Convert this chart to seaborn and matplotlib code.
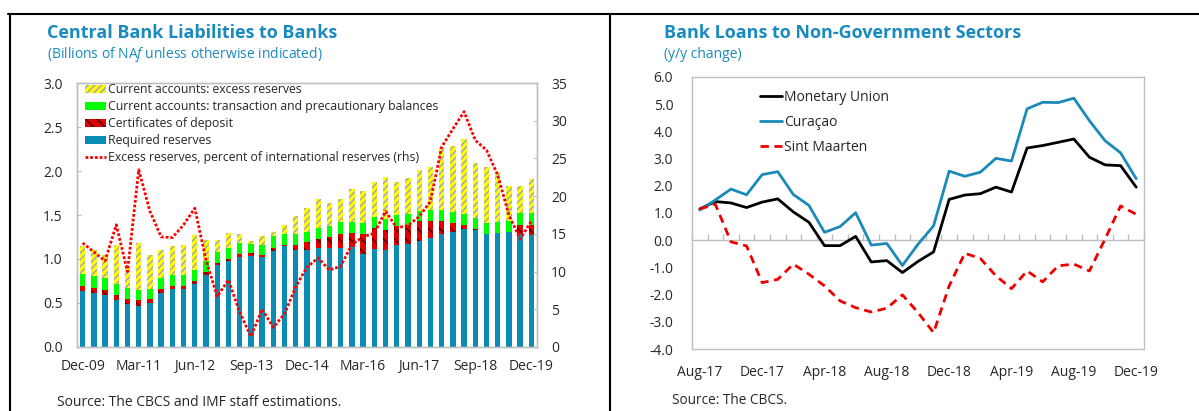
import numpy as np
import pandas as pd
import matplotlib
matplotlib.use("Agg")
import matplotlib.pyplot as plt
import matplotlib.patches as mpatches
from matplotlib.lines import Line2D
import seaborn as sns

# ---- left chart data (billions of NAf), Dec-09 .. Dec-19 quarterly
quarters = pd.date_range("2009-12-31", "2019-12-31", freq="QE").strftime("%b-%y").tolist()

required = [0.636, 0.617, 0.587, 0.530, 0.492, 0.470, 0.500, 0.617, 0.663, 0.663,
            0.720, 0.822, 0.928, 0.973, 1.023, 1.030, 1.023, 1.091, 1.144, 1.106,
            1.100, 1.120, 1.128, 1.128, 1.139, 1.056, 1.109, 1.102, 1.154, 1.165,
            1.203, 1.237, 1.282, 1.305, 1.342, 1.327, 1.286, 1.297, 1.308, 1.286, 1.278]
cds = [0.057, 0.057, 0.057, 0.057, 0.050, 0.060, 0.042, 0.038, 0.030, 0.030,
       0.030, 0.030, 0.027, 0.023, 0.030, 0.038, 0.019, 0.038, 0.019, 0.057,
       0.090, 0.109, 0.124, 0.158, 0.158, 0.230, 0.244, 0.229, 0.218, 0.226,
       0.226, 0.199, 0.154, 0.105, 0.049, 0.019, 0.0, 0.0, 0.0, 0.105, 0.113]
transaction = [0.133, 0.133, 0.140, 0.129, 0.132, 0.122, 0.121, 0.125, 0.121, 0.121,
               0.121, 0.121, 0.125, 0.129, 0.129, 0.102, 0.121, 0.129, 0.121, 0.121,
               0.115, 0.124, 0.120, 0.131, 0.124, 0.124, 0.121, 0.124, 0.124, 0.120,
               0.120, 0.120, 0.120, 0.124, 0.120, 0.120, 0.124, 0.120, 0.128, 0.132, 0.132]
excess = [0.322, 0.291, 0.258, 0.439, 0.250, 0.534, 0.386, 0.318, 0.338, 0.349,
          0.406, 0.239, 0.132, 0.174, 0.098, 0.030, 0.102, 0.049, 0.099, 0.201,
          0.270, 0.331, 0.263, 0.267, 0.372, 0.368, 0.406, 0.481, 0.384, 0.406,
          0.462, 0.493, 0.700, 0.752, 0.857, 0.620, 0.631, 0.568, 0.399, 0.308, 0.383]
excess_pct = [13.8, 12.6, 11.4, 16.2, 10.0, 23.5, 18.0, 14.6, 14.5, 16.2,
              18.4, 11.5, 6.7, 8.9, 4.6, 1.4, 5.0, 2.6, 4.4, 8.0,
              10.6, 11.8, 10.2, 10.7, 13.6, 14.6, 15.1, 18.0, 15.8, 16.1,
              17.3, 19.3, 26.5, 28.9, 31.2, 27.4, 26.1, 22.8, 17.5, 14.3, 16.7]

# ---- right chart data (y/y change), Aug-17 .. Dec-19 monthly
months = pd.date_range("2017-08-31", "2019-12-31", freq="ME").strftime("%b-%y").tolist()

monetary_union = [1.15, 1.42, 1.37, 1.20, 1.40, 1.52, 1.04, 0.66, -0.20, -0.20,
                  0.14, -0.80, -0.75, -1.19, -0.78, -0.43, 1.50, 1.66, 1.71, 1.95,
                  1.77, 3.39, 3.48, 3.60, 3.72, 3.05, 2.77, 2.74, 1.95]
curacao = [1.11, 1.48, 1.88, 1.67, 2.41, 2.52, 1.68, 1.28, 0.29, 0.50,
           1.01, -0.18, -0.12, -0.93, -0.15, 0.53, 2.54, 2.35, 2.50, 3.01,
           2.91, 4.83, 5.07, 5.06, 5.22, 4.39, 3.66, 3.21, 2.26]
sint_maarten = [1.15, 1.32, -0.06, -0.21, -1.56, -1.44, -0.88, -1.25, -1.68, -2.23,
                -2.48, -2.64, -2.50, -2.01, -2.66, -3.40, -1.68, -0.48, -0.67, -1.31,
                -1.78, -1.13, -1.53, -0.94, -0.88, -1.13, 0.04, 1.26, 0.95]

TEAL = "#1a8bbf"
BLUE = "#0a8cb4"
GREEN = "#00ff00"
YELLOW = "#ffff00"
RED = "#e00000"
GRAY = "#bfbfbf"

sns.set_style("white")
plt.rcParams["font.family"] = ["Open Sans", "DejaVu Sans"]
plt.rcParams["mathtext.fontset"] = "custom"
plt.rcParams["mathtext.rm"] = "Open Sans"
plt.rcParams["mathtext.it"] = "Open Sans:italic"
plt.rcParams["hatch.linewidth"] = 1.1

W, H = 1199, 411
fig = plt.figure(figsize=(W / 100, H / 100), dpi=100)


def fx(px):
    return px / W


def fy(py):
    return 1 - py / H


# ================= left chart =================
ax1 = fig.add_axes([fx(77), fy(347), fx(537) - fx(77), fy(83) - fy(347)])

df = pd.DataFrame({"quarter": quarters})
df["lvl1"] = np.array(required)
df["lvl2"] = df["lvl1"] + np.array(cds)
df["lvl3"] = df["lvl2"] + np.array(transaction)
df["lvl4"] = df["lvl3"] + np.array(excess)

bw = 0.48
sns.barplot(data=df, x="quarter", y="lvl4", color=YELLOW, saturation=1, width=bw,
            edgecolor="#a8a8a8", linewidth=0, hatch="/////", errorbar=None, ax=ax1)
sns.barplot(data=df, x="quarter", y="lvl3", color=GREEN, saturation=1, width=bw,
            linewidth=0, errorbar=None, ax=ax1)
sns.barplot(data=df, x="quarter", y="lvl2", color=RED, saturation=1, width=bw,
            edgecolor="#500000", linewidth=0, hatch="\\\\\\", errorbar=None, ax=ax1)
sns.barplot(data=df, x="quarter", y="lvl1", color=BLUE, saturation=1, width=bw,
            linewidth=0, errorbar=None, ax=ax1)

ax1.set_ylim(0, 3.0)
ax1.set_yticks(np.arange(0, 3.01, 0.5))
ax1.set_yticklabels([f"{v:.1f}" for v in np.arange(0, 3.01, 0.5)])
ax1.set_xticks(range(0, 41, 5))
ax1.set_xticklabels(quarters[::5])
ax1.set_xticks(np.arange(-0.5, 41, 1), minor=True)
ax1.set_xlabel("")
ax1.set_ylabel("")

ax2 = ax1.twinx()
sns.lineplot(x=np.arange(len(excess_pct)), y=excess_pct, ax=ax2, color="#ff0000",
             linewidth=2.0, linestyle=(0, (1, 0.7)), legend=False)
ax2.set_ylim(0, 35)
ax2.set_yticks(range(0, 36, 5))
ax2.set_ylabel("")
ax1.set_xlim(-0.5, 40.5)

for a in (ax1, ax2):
    for s in a.spines.values():
        s.set_color(GRAY)
        s.set_linewidth(1)
ax1.tick_params(axis="y", direction="in", length=3, color=GRAY, labelsize=10, pad=10.5)
ax1.tick_params(axis="x", which="major", length=0, labelsize=10, pad=8.5)
ax1.tick_params(axis="x", which="minor", direction="in", length=3, color=GRAY)
ax2.tick_params(axis="y", direction="in", length=3, color=GRAY, labelsize=10, pad=10)

handles = [
    mpatches.Patch(facecolor=YELLOW, edgecolor="#a8a8a8", hatch="/////", linewidth=0,
                   label="Current accounts: excess reserves"),
    mpatches.Patch(facecolor=GREEN, linewidth=0,
                   label="Current accounts: transaction and precautionary balances"),
    mpatches.Patch(facecolor=RED, edgecolor="#500000", hatch="\\\\\\", linewidth=0,
                   label="Certificates of deposit"),
    mpatches.Patch(facecolor=BLUE, linewidth=0, label="Required reserves"),
    Line2D([], [], color="#ff0000", linewidth=2.0, linestyle=(0, (1, 0.7)),
           label="Excess reserves, percent of international reserves (rhs)"),
]
ax2.legend(handles=handles, loc="upper left", bbox_to_anchor=(fx(85), fy(83)),
           bbox_transform=fig.transFigure, frameon=False, fontsize=8.8,
           handlelength=1.7, handleheight=0.65, handletextpad=0.2,
           labelspacing=0.33, borderpad=0, borderaxespad=0)

# ================= right chart =================
ax3 = fig.add_axes([fx(692), fy(349), fx(1144) - fx(692), fy(77) - fy(349)])
xi = np.arange(len(months))
sns.lineplot(x=xi, y=monetary_union, ax=ax3, color="black", linewidth=2.0,
             label="Monetary Union")
sns.lineplot(x=xi, y=curacao, ax=ax3, color="#1a8ab8", linewidth=2.0, label="Curaçao")
sns.lineplot(x=xi, y=sint_maarten, ax=ax3, color="#ee0000", linewidth=2.0,
             linestyle=(0, (3, 2)), label="Sint Maarten")
ax3.set_xlim(-0.5, len(months) - 0.5)
ax3.set_ylim(-4, 6)
ax3.set_yticks(range(-4, 7))
ax3.set_yticklabels([f"{v:.1f}" for v in range(-4, 7)])
ax3.set_xticks(range(0, len(months), 4))
ax3.set_xticklabels(months[::4])
ax3.set_xlabel("")
ax3.set_ylabel("")
for s in ax3.spines.values():
    s.set_color(GRAY)
    s.set_linewidth(1)
ax3.tick_params(axis="y", length=0, labelsize=10, pad=13.5)
ax3.tick_params(axis="x", length=0, labelsize=10, pad=11.5)

zero_ax = ax3.secondary_xaxis(4 / 10)
zero_ax.set_xticks(np.arange(-0.5, len(months), 1))
zero_ax.set_xticklabels([])
zero_ax.tick_params(direction="in", length=4, color=GRAY, width=1)
for s in zero_ax.spines.values():
    s.set_color(GRAY)
    s.set_linewidth(1)

ax3.legend(loc="upper left", bbox_to_anchor=(fx(760), fy(90)),
           bbox_transform=fig.transFigure, frameon=False, fontsize=10,
           handlelength=1.6, handletextpad=0.15, labelspacing=0.72,
           borderpad=0, borderaxespad=0)

# ================= titles, sources, frame =================
fig.text(fx(47), fy(33), "Central Bank Liabilities to Banks", fontsize=13,
         fontweight="bold", color=TEAL, ha="left", va="center")
fig.text(fx(47), fy(55), "(Billions of NA$f$ unless otherwise indicated)", fontsize=10,
         color=TEAL, ha="left", va="center")
fig.text(fx(664), fy(33), "Bank Loans to Non-Government Sectors", fontsize=13,
         fontweight="bold", color=TEAL, ha="left", va="center")
fig.text(fx(664), fy(55), "(y/y change)", fontsize=10, color=TEAL, ha="left", va="center")
fig.text(fx(57), fy(402), "Source: The CBCS and IMF staff estimations.", fontsize=10,
         ha="left", va="center")
fig.text(fx(672), fy(400), "Source: The CBCS.", fontsize=9.8, ha="left", va="center")

frame_kw = dict(transform=fig.transFigure, color="black", linewidth=1.5)
fig.add_artist(Line2D([fx(8), 1], [fy(14), fy(14)], **frame_kw))
fig.add_artist(Line2D([fx(10), fx(10)], [fy(14), 0], **frame_kw))
fig.add_artist(Line2D([fx(610), fx(610)], [fy(14), 0], **frame_kw))

fig.savefig("out.png", dpi=100)
